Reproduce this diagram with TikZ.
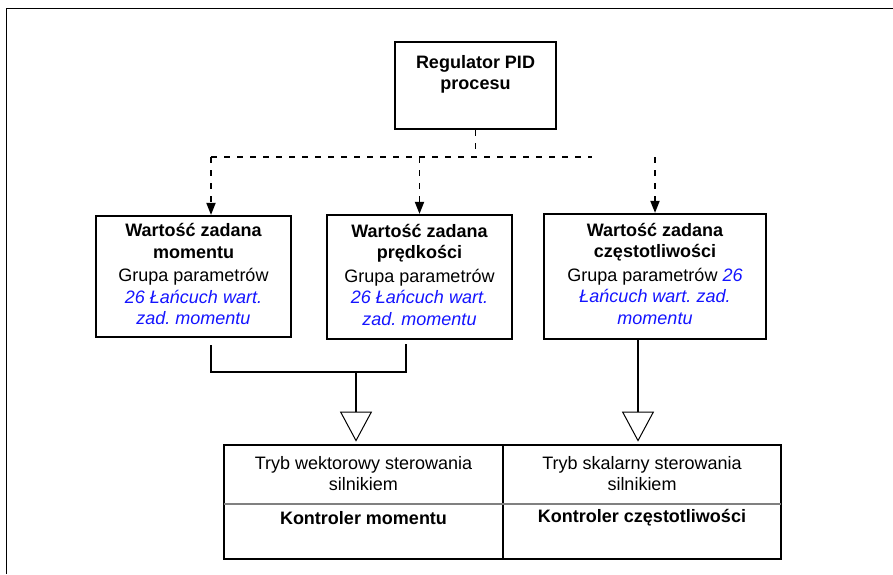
\documentclass[tikz,border=0pt]{standalone}
\usepackage{fontspec}
\setmainfont{Liberation Sans}
\usetikzlibrary{arrows.meta}
\definecolor{refblue}{RGB}{20,20,255}
\newcommand\bluit[1]{\textcolor{refblue}{\textit{#1}}}
\frenchspacing
\begin{document}
\begin{tikzpicture}[x=1pt,y=-1pt,
  every node/.style={font=\fontsize{18}{21.5}\selectfont, align=center, inner sep=0pt},
  box/.style={draw, line width=2.2pt, inner sep=0pt},
  dashline/.style={line width=1.8pt, dash pattern=on 6pt off 7pt},
  dtip/.style={-{Triangle[width=9pt,length=12pt]}},
  conn/.style={line width=1.8pt},
  ttip/.style={-{Triangle[open,width=32pt,length=30pt,line width=1pt,fill=white]}},
  frameline/.style={line width=1pt}
]
\useasboundingbox (0,0) rectangle (893,574);
% outer frame
\coordinate (fTR) at (893,8);
\coordinate (fTL) at (6,8);
\coordinate (fBL) at (6,574);
\draw[frameline] (fTR) -- (fTL) -- (fBL);

% PID box
\node[box, minimum width=161pt, minimum height=87pt] (pid) at (475.5,85.5) {};
\node (pidt) at (475.5,74.5) {\textbf{Regulator PID}\\\textbf{procesu}};

% reference boxes
\node[box, minimum width=195pt, minimum height=121pt] (b1) at (193.5,276.5) {};
\node (b1t) at (193.5,274) {\textbf{Wartość zadana}\\\textbf{momentu}\\[2pt]Grupa parametrów\\\bluit{26 Łańcuch wart.}\\\bluit{zad. momentu}};

\node[box, minimum width=185pt, minimum height=124pt] (b2) at (419.5,277) {};
\node (b2t) at (419.5,274.5) {\textbf{Wartość zadana}\\\textbf{prędkości}\\[2pt]Grupa parametrów\\\bluit{26 Łańcuch wart.}\\\bluit{zad. momentu}};

\node[box, minimum width=222pt, minimum height=125pt] (b3) at (655,276.5) {};
\node (b3t) at (655,273.5) {\textbf{Wartość zadana}\\\textbf{częstotliwości}\\[2pt]Grupa parametrów \bluit{26}\\\bluit{Łańcuch wart. zad.}\\\bluit{momentu}};

% bottom controller box
\node[draw, line width=2.7pt, minimum width=557pt, minimum height=114pt] (ctrl) at (502.5,502) {};
\coordinate (divT) at (503,445);
\coordinate (divB) at (503,559);
\draw[line width=1.6pt] (divT) -- (divB);
\coordinate (hL) at (224,504);
\coordinate (hR) at (781,504);
\draw[line width=1.2pt, gray] (hL) -- (hR);
\node (vec) at (363.5,473.5) {Tryb wektorowy sterowania\\silnikiem};
\node (sca) at (642,473.5) {Tryb skalarny sterowania\\silnikiem};
\node (kmom) at (363.5,518) {\textbf{Kontroler momentu}};
\node (kfr) at (642,518) {\textbf{Kontroler częstotliwości}};

% dashed distribution
\coordinate (busL) at (211,157);
\coordinate (busM) at (419.5,157);
\coordinate (busR) at (592,157);
\coordinate (r3) at (655,157);
\draw[dashline] (pid.south) -- (pid.south |- busL);
\draw[dashline] (busL) -- (busR);
\draw[dashline, dtip] (busL) -- (busL |- b1.north);
\draw[dashline, dtip] (busM) -- (b2.north);
\draw[dashline, dtip] (r3) -- (b3.north);

% solid merge
\coordinate (j1) at (211,372);
\coordinate (j2) at (406,372);
\coordinate (m1) at (356,372);
\coordinate (r4) at (638,339);
\draw[conn] (j1 |- b1.south) ++(0,7) -- (j1) -- (j2) -- ([yshift=-4pt]j2 |- b2.south);
\draw[conn, ttip] (m1) -- ([yshift=2pt]m1 |- ctrl.north);
\draw[conn, ttip] (r4 |- b3.south) -- ([yshift=2pt]r4 |- ctrl.north);
\end{tikzpicture}
\end{document}
